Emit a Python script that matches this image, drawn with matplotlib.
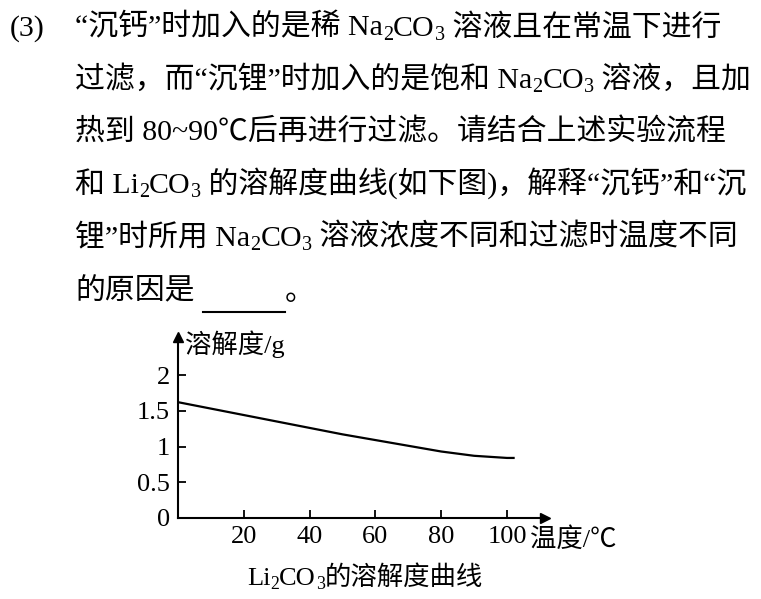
import re
import matplotlib
matplotlib.use("Agg")
import matplotlib.pyplot as plt
from matplotlib.lines import Line2D

plt.rcParams['font.family'] = ['Liberation Serif', 'Noto Sans CJK SC', 'DejaVu Sans']

temps = [0, 10, 20, 30, 40, 50, 60, 70, 80, 90, 100, 102]
solub = [1.62, 1.53, 1.44, 1.35, 1.26, 1.17, 1.09, 1.01, 0.93, 0.87, 0.84, 0.84]
xticks = [20, 40, 60, 80, 100]
yticks = [0, 0.5, 1, 1.5, 2]
ylabels = ["0", "0.5", "1", "1.5", "2"]

W, H = 761, 599
fig = plt.figure(figsize=(W/100, H/100), dpi=100)
renderer = fig.canvas.get_renderer()

def T(x, y, s, size=21.5, ha='left'):
    """Draw text with {n} as subscripts, starting at pixel x (left) or centred."""
    parts = re.split(r'(\{\d\})', s)
    segs = [(p[1:-1], True) if p.startswith('{') else (p, False) for p in parts if p]
    arts = []
    for txt, sub in segs:
        fs = size * 0.68 if sub else size
        a = fig.text(0, 0, txt, fontsize=fs, ha='left', va='baseline')
        arts.append((a, sub))
    widths = [a.get_window_extent(renderer).width for a, _ in arts]
    total = sum(widths)
    cx = x - total / 2 if ha == 'center' else x
    base = H - y - size * 0.35
    for (a, sub), w in zip(arts, widths):
        yy = base - (size * 0.22 if sub else 0)
        a.set_position((cx / W, yy / H))
        cx += w
    return cx

lines = [
    "“沉钙”时加入的是稀 Na{2}CO{3} 溶液且在常温下进行",
    "过滤，而“沉锂”时加入的是饱和 Na{2}CO{3} 溶液，且加",
    "热到 80~90℃后再进行过滤。请结合上述实验流程",
    "和 Li{2}CO{3} 的溶解度曲线(如下图)，解释“沉钙”和“沉",
    "锂”时所用 Na{2}CO{3} 溶液浓度不同和过滤时温度不同",
]
T(10, 28, "(3)")
ys = [28, 80, 133, 185, 238]
for y, s in zip(ys, lines):
    T(75, y, s)
T(75, 292, "的原因是")
fig.add_artist(Line2D([203/W, 285/W], [1-312/H, 1-312/H], color='black', lw=1.5))
T(285, 292, "。")

left, right, bottom, top = 178, 545, 518, 337
ax = fig.add_axes([left/W, 1-bottom/H, (right-left)/W, (bottom-top)/H])
ax.plot(temps, solub, color='black', lw=1.6)
ax.set_xlim(0, (right-left)/3.29)
ax.set_ylim(0, (bottom-top)/71.5)
for s in ['top', 'right']:
    ax.spines[s].set_visible(False)
for s in ['left', 'bottom']:
    ax.spines[s].set_linewidth(1.5)
ax.plot(1, 0, ">k", transform=ax.transAxes, clip_on=False, ms=7)
ax.plot(0, 1, "^k", transform=ax.transAxes, clip_on=False, ms=7)
ax.set_xticks(xticks)
ax.set_yticks(yticks)
ax.set_yticklabels(ylabels)
ax.tick_params(direction='in', length=6, width=1.3, labelsize=19, pad=6)
ax.patch.set_alpha(0)

T(185, 346, "溶解度/g", size=19)
T(530, 540, "温度/℃", size=19)
T(365, 578, "Li{2}CO{3}的溶解度曲线", size=19, ha='center')

fig.savefig("out.png", dpi=100)
